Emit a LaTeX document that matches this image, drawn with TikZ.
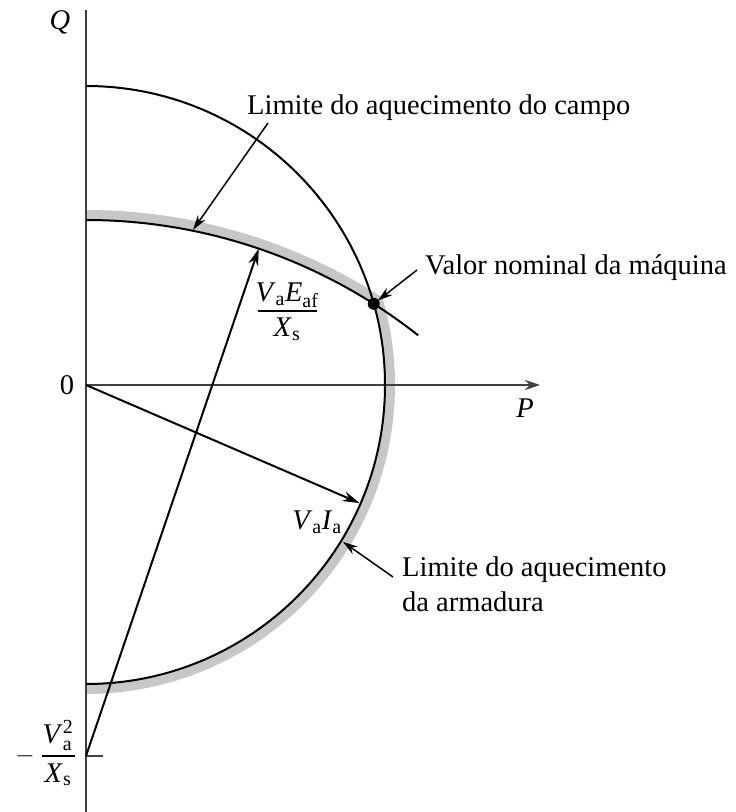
\documentclass[tikz,border=0pt]{standalone}
\usepackage{amsmath}
\usepackage{fontspec}
\setmainfont{Liberation Serif}
\usetikzlibrary{arrows.meta,calc}
\begin{document}
\begin{tikzpicture}[x=1pt,y=1pt,
  curve/.style={line width=2pt, black},
  axisline/.style={line width=1.8pt, black!75},
  band/.style={line width=10pt, black!22, line cap=butt},
  lbl/.style={font=\fontsize{28.5}{34}\selectfont, inner sep=0pt},
  ptr/.style={line width=1.5pt, -{Stealth[length=15pt,width=9pt]}},
  vec/.style={line width=2pt, -{Stealth[length=17pt,width=10pt]}}]
\useasboundingbox (0,0) rectangle (736,812);
\coordinate (O) at (86,427);
\coordinate (C) at (86,56);
\coordinate (R) at ($(C)+(57.53:536)$);
% gray band
\draw[band] ($(C)+(90:541)$) arc[start angle=90,end angle=57.33,radius=541]
  -- ($(O)+(16.15:304)$) arc[start angle=16.15,end angle=-90,radius=304];
% axes
\coordinate (Qtop) at (86,802);
\coordinate (Qbot) at (86,0);
\coordinate (Pend) at (540,427);
\coordinate (T) at (103,56);
\draw[axisline] (Qbot) -- (Qtop);
\draw[axisline, -{Stealth[length=15pt,width=10pt]}] (O) -- (Pend);
\draw[axisline] (C) -- (T);
% circles
\draw[curve] ($(O)+(90:299)$) arc[start angle=90,end angle=-90,radius=299];
\draw[curve] ($(C)+(90:536)$) arc[start angle=90,end angle=51.7,radius=536];
% vectors
\coordinate (E) at ($(C)+(71.2:536)$);
\draw[vec] (C) -- (E);
\coordinate (I) at ($(O)+(-23.35:298)$);
\draw[vec] (O) -- (I);
\fill (R) circle (6);
% labels
\node[lbl] (q) at (60,790) {\textit{Q}};
\node[lbl] (zero) at (67,427) {0};
\node[lbl] (p) at (525,404) {\textit{P}};
\node[lbl, anchor=base west] (campo) at (247,697) {Limite do aquecimento do campo};
\coordinate (campoS) at (268,689);
\coordinate (campoT) at ($(C)+(78.5:537)$);
\draw[ptr] (campoS) -- (campoT);
\node[lbl, anchor=base west] (valor) at (425,537) {Valor nominal da máquina};
\coordinate (valorS) at (417,542);
\draw[ptr, shorten >=5pt] (valorS) -- (R);
\node[lbl, anchor=base west] (arm1) at (402,235) {Limite do aquecimento};
\node[lbl, anchor=base west] (arm2) at (402,200) {da armadura};
\coordinate (armS) at (393,235);
\coordinate (armT) at ($(O)+(-31.4:301)$);
\draw[ptr] (armS) -- (armT);
% Va Eaf / Xs
\node[lbl, anchor=base] (eafn) at (287,510) {$\text{\textit{V}}_{\text{a}}\text{\textit{E}}_{\text{af}}$};
\coordinate (eafl) at (258,501);
\coordinate (eafr) at (317,501);
\draw[line width=1.3pt] (eafl) -- (eafr);
\node[lbl, anchor=base] (eafd) at (287,475) {$\text{\textit{X}}_{\text{s}}$};
% Va Ia
\node[lbl] (vaia) at (317,290) {$\text{\textit{V}}_{\text{a}}\text{\textit{I}}_{\text{a}}$};
% -Va^2/Xs
\node[lbl] (minus) at (25,56) {$-$};
\node[lbl, anchor=base] (van) at (58,68) {$\text{\textit{V}}^{\text{2}}_{\text{a}}$};
\coordinate (val) at (42,56);
\coordinate (var) at (75,56);
\draw[line width=1.3pt] (val) -- (var);
\node[lbl, anchor=base] (vad) at (58,30) {$\text{\textit{X}}_{\text{s}}$};
\end{tikzpicture}
\end{document}
